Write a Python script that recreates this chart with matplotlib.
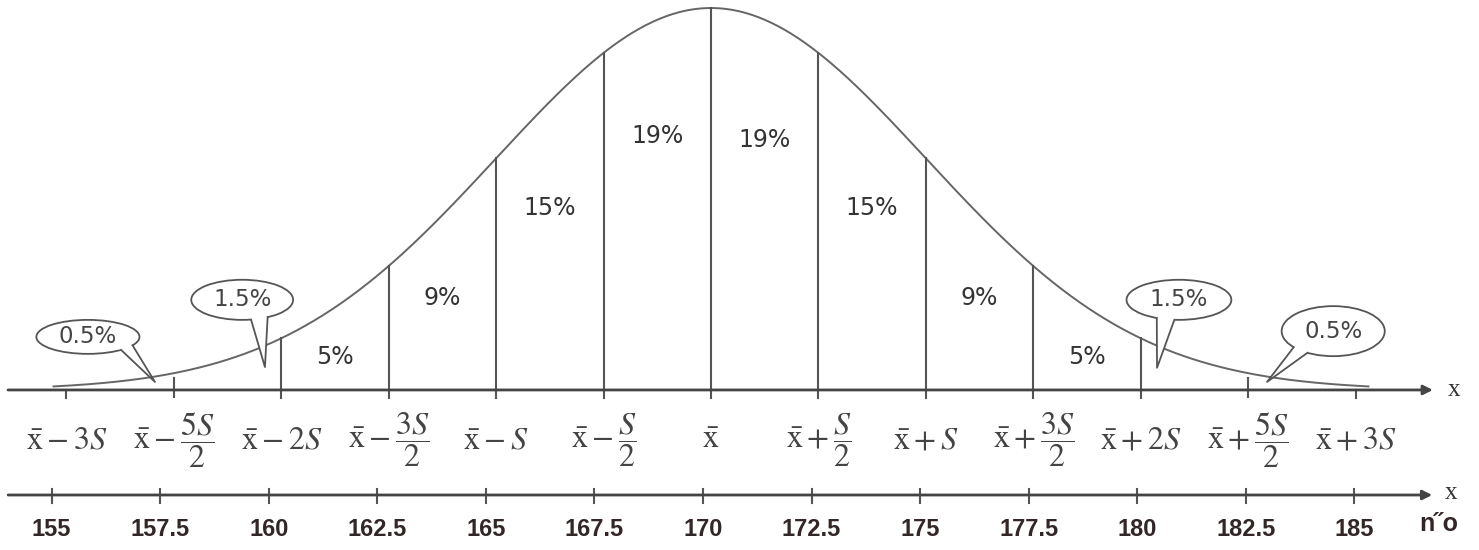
import numpy as np
import matplotlib
matplotlib.use("Agg")
import matplotlib.pyplot as plt
from matplotlib.patches import Ellipse, Polygon

plt.rcParams['mathtext.fontset'] = 'stix'

# data: mean 170, S = 5
mean = 170.0
S = 5.0
upper_ticks = [155, 157.5, 160, 162.5, 165, 167.5, 170, 172.5, 175, 177.5, 180, 182.5, 185]
xb = r'\bar{\mathrm{x}}'
upper_labels = ['$' + xb + s + '$' for s in
                [r'-3S', r'-\dfrac{5S}{2}', r'-2S', r'-\dfrac{3S}{2}', r'-S', r'-\dfrac{S}{2}', r'',
                 r'+\dfrac{S}{2}', r'+S', r'+\dfrac{3S}{2}', r'+2S', r'+\dfrac{5S}{2}', r'+3S']]
lower_ticks = [155, 157.5, 160, 162.5, 165, 167.5, 170, 172.5, 175, 177.5, 180, 182.5, 185]
lower_labels = ['155', '157.5', '160', '162.5', '165', '167.5', '170', '172.5', '175', '177.5',
                '180', '182.5', '185']

# inner bands (between the vertical lines) and their shares
band_mid = [161.25, 163.75, 166.25, 168.75, 171.25, 173.75, 176.25, 178.75]
band_pct = ['5%', '9%', '15%', '19%', '19%', '15%', '9%', '5%']
band_text_y = [0.086, 0.24, 0.476, 0.665, 0.655, 0.476, 0.24, 0.086]

# outer shares shown in speech bubbles
bubble_pct = ['0.5%', '1.5%', '1.5%', '0.5%']
bubble_xy = [(155.50, 0.139), (159.09, 0.236), (180.89, 0.236), (184.48, 0.154)]
bubble_wh = [(2.40, 0.089), (2.37, 0.105), (2.44, 0.105), (2.40, 0.131)]
bubble_tip = [(157.06, 0.021), (159.62, 0.060), (180.38, 0.058), (182.94, 0.021)]
bubble_base = [(-50, -30), (-80, -60), (-115, -95), (-140, -120)]

def curve(x):
    return np.exp(-(np.asarray(x) - mean) ** 2 / (2 * S ** 2))

fig = plt.figure(figsize=(14.79, 5.5), dpi=100)

# ---- upper part: bell curve on the S scale ----
ax = fig.add_axes([0, 0, 1, 1])
ax.set_xlim(153.454, 187.873)
ax.set_ylim(-0.419, 1.021)
ax.axis('off')
px = 1 / 382.0  # one pixel in y units

line_col = '#555555'
ax.annotate('', xy=(186.80, 0), xytext=(153.64, 0),
            arrowprops=dict(arrowstyle='-|>', lw=2, color='#444444', mutation_scale=14, shrinkA=0, shrinkB=0))
ax.text(187.15, 0, 'x', fontsize=18, family='Liberation Serif', color='#333333', va='center', ha='left')

xs = np.linspace(154.7, 185.3, 600)
ax.plot(xs, curve(xs), color='#666666', lw=1.4)

for v in upper_ticks:
    if 160 <= v <= 180:
        ax.plot([v, v], [-8 * px, curve(v)], color=line_col, lw=1.5)
    elif v in (157.5, 182.5):
        ax.plot([v, v], [-7 * px, 12 * px], color=line_col, lw=1.5)
    else:
        ax.plot([v, v], [-8 * px, 0], color=line_col, lw=1.5)

for v, lab in zip(upper_ticks, upper_labels):
    ax.text(v, -0.131, lab, fontsize=23, color='#444444', ha='center', va='center')

for xm, t, ty in zip(band_mid, band_pct, band_text_y):
    ax.text(xm, ty, t, fontsize=17, color='#333333', ha='center', va='center', family='DejaVu Sans')

for t, (cx, cy), (w, h), tip, (a1, a2) in zip(bubble_pct, bubble_xy, bubble_wh, bubble_tip, bubble_base):
    ax.add_patch(Ellipse((cx, cy), w, h, facecolor='white', edgecolor='#555555', lw=1.3, zorder=3))
    b1 = (cx + w / 2 * np.cos(np.radians(a1)), cy + h / 2 * np.sin(np.radians(a1)))
    b2 = (cx + w / 2 * np.cos(np.radians(a2)), cy + h / 2 * np.sin(np.radians(a2)))
    # pull the base a little inside the ellipse so the white fill hides the outline there
    i1 = (cx + (b1[0] - cx) * 0.85, cy + (b1[1] - cy) * 0.85)
    i2 = (cx + (b2[0] - cx) * 0.85, cy + (b2[1] - cy) * 0.85)
    ax.add_patch(Polygon([i1, b1, tip, b2, i2], closed=True, facecolor='white', edgecolor='none', zorder=4))
    ax.plot([b1[0], tip[0], b2[0]], [b1[1], tip[1], b2[1]], color='#555555', lw=1.3, zorder=5)
    ax.text(cx, cy, t, fontsize=16.5, color='#444444', ha='center', va='center', family='DejaVu Sans', zorder=6)

# ---- lower part: the measured scale ----
ax2 = fig.add_axes([0, 0, 1, 1])
ax2.set_xlim(153.813, 187.868)
ax2.set_ylim(0, 550)
ax2.axis('off')
ax2.patch.set_alpha(0)

ax2.annotate('', xy=(186.79, 55), xytext=(154.0, 55),
             arrowprops=dict(arrowstyle='-|>', lw=2, color='#444444', mutation_scale=14, shrinkA=0, shrinkB=0))
ax2.text(187.07, 57, 'x', fontsize=18, family='Liberation Serif', color='#333333', va='center', ha='left')
ax2.text(186.5, 26, 'n\u02ddo', fontsize=18, family='Liberation Sans', weight='bold', color='#332626',
         va='center', ha='left')

for v in lower_ticks:
    ax2.plot([v, v], [47, 61], color=line_col, lw=1.5)
for v, lab in zip(lower_ticks, lower_labels):
    ax2.text(v, 21, lab, fontsize=17, family='Liberation Sans', weight='bold', color='#332626',
             ha='center', va='center')

fig.savefig('out.png', dpi=100, facecolor='white')
